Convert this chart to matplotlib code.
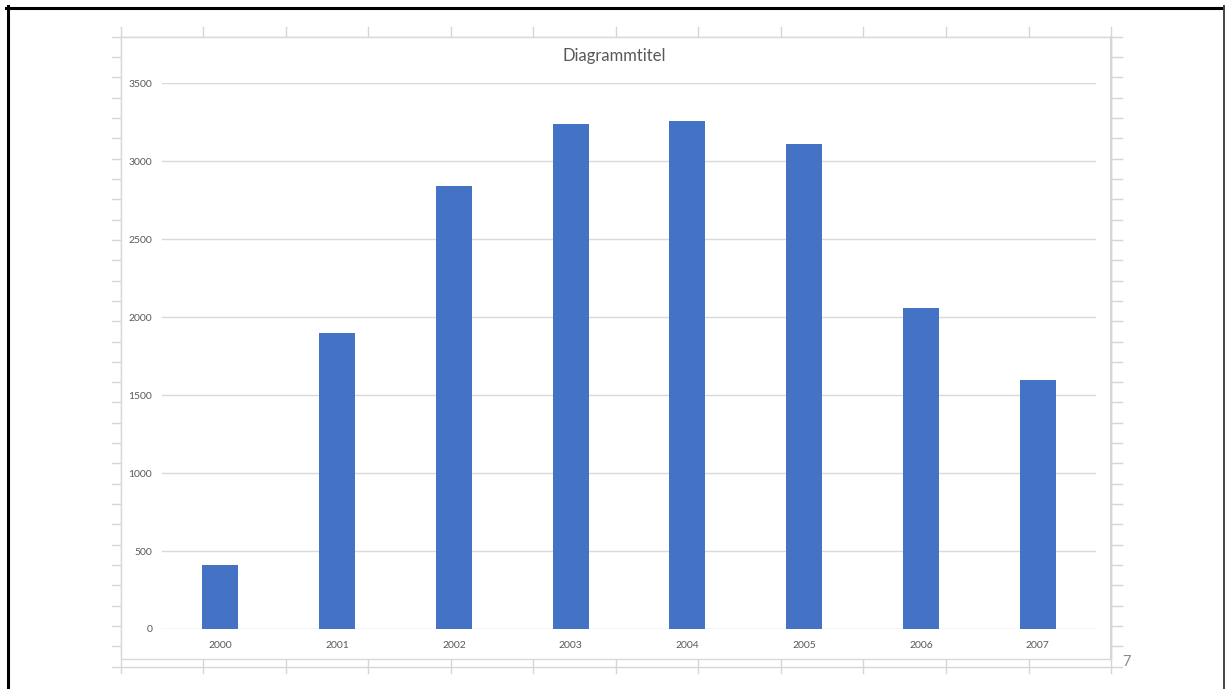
import matplotlib
matplotlib.use("Agg")
import matplotlib.pyplot as plt
import numpy as np
from matplotlib.patches import Rectangle

# chart data
years = ["2000", "2001", "2002", "2003", "2004", "2005", "2006", "2007"]
values = [410, 1900, 2840, 3240, 3260, 3110, 2060, 1600]
y_ticks = [0, 500, 1000, 1500, 2000, 2500, 3000, 3500]
title = "Diagrammtitel"

W, H = 1225, 689
bar_color = "#4472C4"
grid_color = "#d9d9d9"
cell_color = "#d6d6d6"
text_color = "#595959"
font = ["Lato", "DejaVu Sans"]

fig = plt.figure(figsize=(W / 100, H / 100), dpi=100)
fig.patch.set_facecolor("white")

# background layer in pixel coordinates: spreadsheet cells + screenshot frame
bg = fig.add_axes([0, 0, 1, 1])
bg.set_xlim(0, W)
bg.set_ylim(H, 0)
bg.axis("off")

col_x = 120.7 + 82.53 * np.arange(13)
row_y = 36.7 + 20.32 * np.arange(32)
for x in col_x:
    bg.plot([x, x], [27, 673], color=cell_color, lw=1, zorder=1)
for y in row_y:
    bg.plot([112, 1121.5], [y, y], color=cell_color, lw=1, zorder=1)

# chart object area
bg.add_patch(Rectangle((120.7, 36.7), 1110.5 - 120.7, 659 - 36.7,
                       facecolor="white", edgecolor=grid_color, lw=1, zorder=2))
bg.plot([1110.8, 1110.8], [36.7, 659], color=cell_color, lw=1.5, zorder=3)

bg.text(614, 56.5, title, ha="center", va="center", fontsize=12,
        color=text_color, family=font, zorder=4)
bg.text(1122, 661.5, "7", ha="left", va="center", fontsize=10.5,
        color="#8a8a8a", family=font, zorder=4)

# screenshot frame
bg.plot([7.5, 7.5], [6, H], color="black", lw=2.2, zorder=5)
bg.plot([6, 1224], [7.5, 7.5], color="black", lw=2.2, zorder=5)
bg.plot([1223.5, 1223.5], [6, H], color="#444444", lw=1.4, zorder=5)

# plot area
ax = fig.add_axes([162 / W, (H - 629) / H, 934 / W, 545.7 / H])
ax.set_facecolor("none")
x = np.arange(len(years))
ax.bar(x, values, width=0.31, color=bar_color, zorder=3)
ax.set_xlim(-0.5, len(years) - 0.5)
ax.set_ylim(0, 3500)
ax.set_yticks(y_ticks)
ax.set_yticklabels([str(v) for v in y_ticks])
ax.set_xticks(x)
ax.set_xticklabels(years)
ax.set_axisbelow(True)
ax.grid(axis="y", color=grid_color, lw=1)
for s in ax.spines.values():
    s.set_visible(False)
ax.tick_params(length=0, colors=text_color, labelsize=7.5)
ax.tick_params(axis="y", pad=7)
ax.tick_params(axis="x", pad=8.5)
for lbl in ax.get_xticklabels() + ax.get_yticklabels():
    lbl.set_family(font)

fig.savefig("out.png", dpi=100)
